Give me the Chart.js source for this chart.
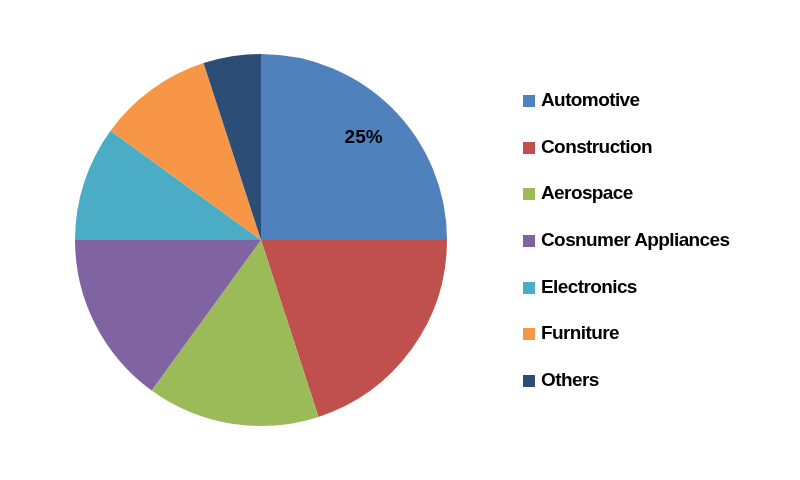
<!DOCTYPE html>
<html><head><meta charset="utf-8">
<script src="https://cdn.jsdelivr.net/npm/chart.js@4/dist/chart.umd.min.js"></script>
<style>
body{margin:0;background:#fff;}
#wrap{position:relative;width:800px;height:480px;}
#legend{position:absolute;left:523px;top:89px;font-family:"Liberation Sans",Arial,sans-serif;font-weight:bold;font-size:19px;letter-spacing:-0.6px;color:#000;}
.item{height:46.7px;display:flex;align-items:flex-start;}
.box{width:12px;height:12px;margin-right:6px;margin-top:6px;}
</style></head><body>
<div id="wrap"><canvas id="c" width="800" height="480"></canvas><div id="legend"></div></div>
<script>
const categories=["Automotive","Construction","Aerospace","Cosnumer Appliances","Electronics","Furniture","Others"];
const values=[25,20,15,15,10,10,5];
const colors=["#4F81BD","#C0504D","#9BBB59","#8064A2","#4BACC6","#F79646","#2C4D75"];
const shownLabels=["25%","","","","","",""];
const lg=document.getElementById('legend');
categories.forEach((c,i)=>{const d=document.createElement('div');d.className='item';d.innerHTML='<span class="box" style="background:'+colors[i]+'"></span><span>'+c+'</span>';lg.appendChild(d);});
const labelPlugin={id:'lbl',afterDatasetsDraw(ch){const ctx=ch.ctx;const meta=ch.getDatasetMeta(0);
meta.data.forEach((a,i)=>{if(!shownLabels[i])return;const p=a.getProps(['x','y','startAngle','endAngle','outerRadius'],true);
const ang=(p.startAngle+p.endAngle)/2;const r=p.outerRadius*0.78;ctx.save();ctx.font='bold 19px "Liberation Sans", Arial, sans-serif';ctx.fillStyle='#000';ctx.textAlign='center';ctx.textBaseline='middle';
ctx.fillText(shownLabels[i],p.x+Math.cos(ang)*r,p.y+Math.sin(ang)*r);ctx.restore();});}};
new Chart(document.getElementById('c'),{type:'pie',data:{labels:categories,datasets:[{data:values,backgroundColor:colors,borderWidth:0}]},
options:{responsive:false,animation:false,layout:{padding:{left:75,right:353,top:54,bottom:54}},plugins:{legend:{display:false},tooltip:{enabled:false}}},plugins:[labelPlugin]});
</script></body></html>
